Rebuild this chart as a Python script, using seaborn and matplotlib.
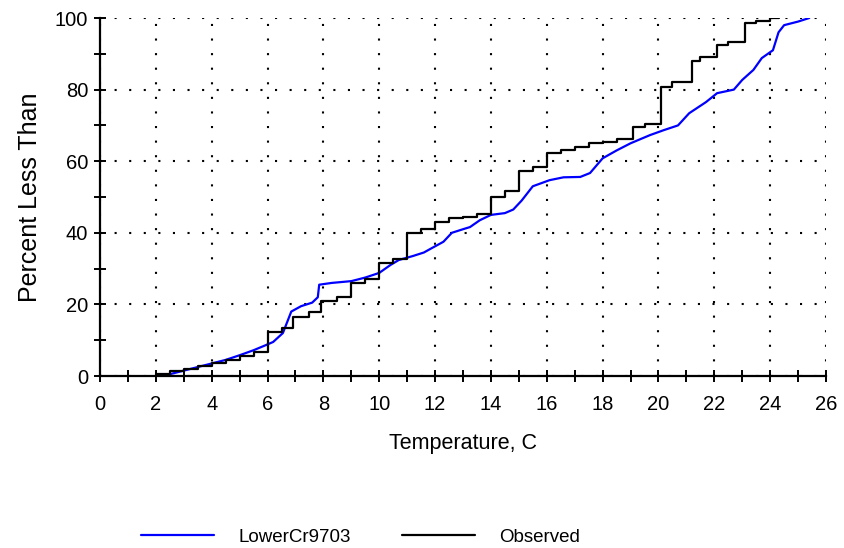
import matplotlib
matplotlib.use("Agg")
import matplotlib.pyplot as plt
import seaborn as sns
import pandas as pd
from matplotlib.ticker import MultipleLocator, FixedLocator

# ---- data ----
obs_temp = [2.0, 2.5, 3.0, 3.5, 4.0, 4.5, 5.0, 5.5, 6.0, 6.5, 6.9, 7.5, 7.9, 8.5,
            9.0, 9.5, 10.0, 10.5, 11.0, 11.5, 12.0, 12.5, 13.0, 13.5, 14.0, 14.5,
            15.0, 15.5, 16.0, 16.5, 17.0, 17.5, 18.0, 18.5, 19.1, 19.5, 20.1, 20.5,
            21.2, 21.5, 22.1, 22.5, 23.1, 23.5, 24.0, 24.3]
obs_pct = [0.5, 1.3, 2.0, 2.7, 3.5, 4.5, 5.5, 6.8, 12.3, 13.5, 16.5, 17.8, 21.0, 22.2,
           26.0, 27.2, 31.5, 32.8, 40.0, 41.2, 43.0, 44.0, 44.5, 45.2, 50.0, 51.8,
           57.2, 58.5, 62.2, 63.2, 64.0, 65.0, 65.5, 66.2, 69.6, 70.5, 80.8, 82.0,
           88.0, 89.0, 92.5, 93.3, 98.6, 99.2, 100.0, 100.0]

sim_temp = [2.5, 3.0, 3.5, 4.0, 4.5, 5.0, 5.5, 5.9, 6.2, 6.55, 6.7, 6.85, 7.2, 7.6,
            7.8, 7.85, 8.3, 9.0, 9.5, 10.0, 10.4, 10.7, 11.2, 11.6, 11.9, 12.3, 12.6,
            13.0, 13.25, 13.6, 14.0, 14.5, 14.8, 15.1, 15.3, 15.5, 16.1, 16.6, 17.2,
            17.55, 18.0, 18.5, 19.0, 19.7, 20.2, 20.7, 21.1, 21.7, 22.1, 22.7, 23.0,
            23.4, 23.7, 24.1, 24.3, 24.5, 25.0, 25.4]
sim_pct = [0.5, 1.5, 2.5, 3.5, 4.5, 5.8, 7.2, 8.5, 9.5, 12.0, 15.0, 18.0, 19.5, 20.5,
           22.0, 25.5, 26.0, 26.5, 27.5, 28.8, 31.0, 32.4, 33.5, 34.5, 35.8, 37.5, 40.0,
           41.0, 41.6, 43.5, 45.0, 45.5, 46.5, 49.0, 51.0, 53.0, 54.7, 55.5, 55.6,
           56.7, 60.8, 63.0, 65.0, 67.3, 68.7, 70.0, 73.4, 76.5, 79.0, 80.0, 82.7,
           85.5, 88.8, 91.0, 96.0, 98.0, 99.0, 100.0]

x_ticks = list(range(0, 27, 2))
y_ticks = [0, 20, 40, 60, 80, 100]
x_label = "Temperature, C"
y_label = "Percent Less Than"
sim_name = "LowerCr9703"
obs_name = "Observed"

# ---- style ----
sns.set_style("white")
plt.rcParams['font.family'] = ['Liberation Sans', 'DejaVu Sans']
plt.rcParams['text.color'] = 'black'
plt.rcParams['axes.labelcolor'] = 'black'
plt.rcParams['xtick.color'] = 'black'
plt.rcParams['ytick.color'] = 'black'

W, H = 844, 548
fig = plt.figure(figsize=(W / 100, H / 100), dpi=100)
ax = fig.add_axes([100 / W, 1 - 376 / H, 726 / W, 358 / H])

sim_df = pd.DataFrame({"Temperature": sim_temp, "Percent": sim_pct})
obs_df = pd.DataFrame({"Temperature": obs_temp, "Percent": obs_pct})

sns.lineplot(data=sim_df, x="Temperature", y="Percent", ax=ax, color="#0000FF",
             linewidth=1.6, sort=False, estimator=None, label=sim_name)
sns.lineplot(data=obs_df, x="Temperature", y="Percent", ax=ax, color="black",
             linewidth=1.6, sort=False, estimator=None, drawstyle="steps-post",
             label=obs_name)

ax.set_xlim(0, 26)
ax.set_ylim(0, 100)
ax.xaxis.set_major_locator(FixedLocator(x_ticks))
ax.yaxis.set_major_locator(FixedLocator(y_ticks))
ax.xaxis.set_minor_locator(MultipleLocator(1))
ax.yaxis.set_minor_locator(MultipleLocator(10))
ax.set_xticklabels([str(t) for t in x_ticks])
ax.set_yticklabels([str(t) for t in y_ticks])

for s in ["top", "right"]:
    ax.spines[s].set_visible(False)
for s in ["left", "bottom"]:
    ax.spines[s].set_color("black")
    ax.spines[s].set_linewidth(1.6)

ax.tick_params(axis="both", which="both", direction="inout", color="black",
               labelcolor="black", width=1.4, bottom=True, left=True)
ax.tick_params(axis="both", which="major", length=9, labelsize=14.5)
ax.tick_params(axis="both", which="minor", length=9)
ax.tick_params(axis="x", which="major", pad=9)
ax.tick_params(axis="y", which="major", pad=4)

ax.grid(True, which="major", color="black", linestyle=(0, (1, 6)), linewidth=1.5,
        dash_capstyle="butt")
ax.set_axisbelow(True)

ax.set_xlabel(x_label, fontsize=15.5, labelpad=14, color="black")
ax.set_ylabel(y_label, fontsize=18, labelpad=9, color="black")

handles, labels = ax.get_legend_handles_labels()
ax.get_legend().remove()
leg = fig.legend(handles, labels, loc="center left",
                 bbox_to_anchor=(141 / W, 1 - 537 / H), ncol=2, frameon=False,
                 handlelength=3.9, handletextpad=1.3, columnspacing=2.7,
                 fontsize=13.5, borderpad=0, borderaxespad=0)
for t in leg.get_texts():
    t.set_color("black")

fig.savefig("out.png", dpi=100)
